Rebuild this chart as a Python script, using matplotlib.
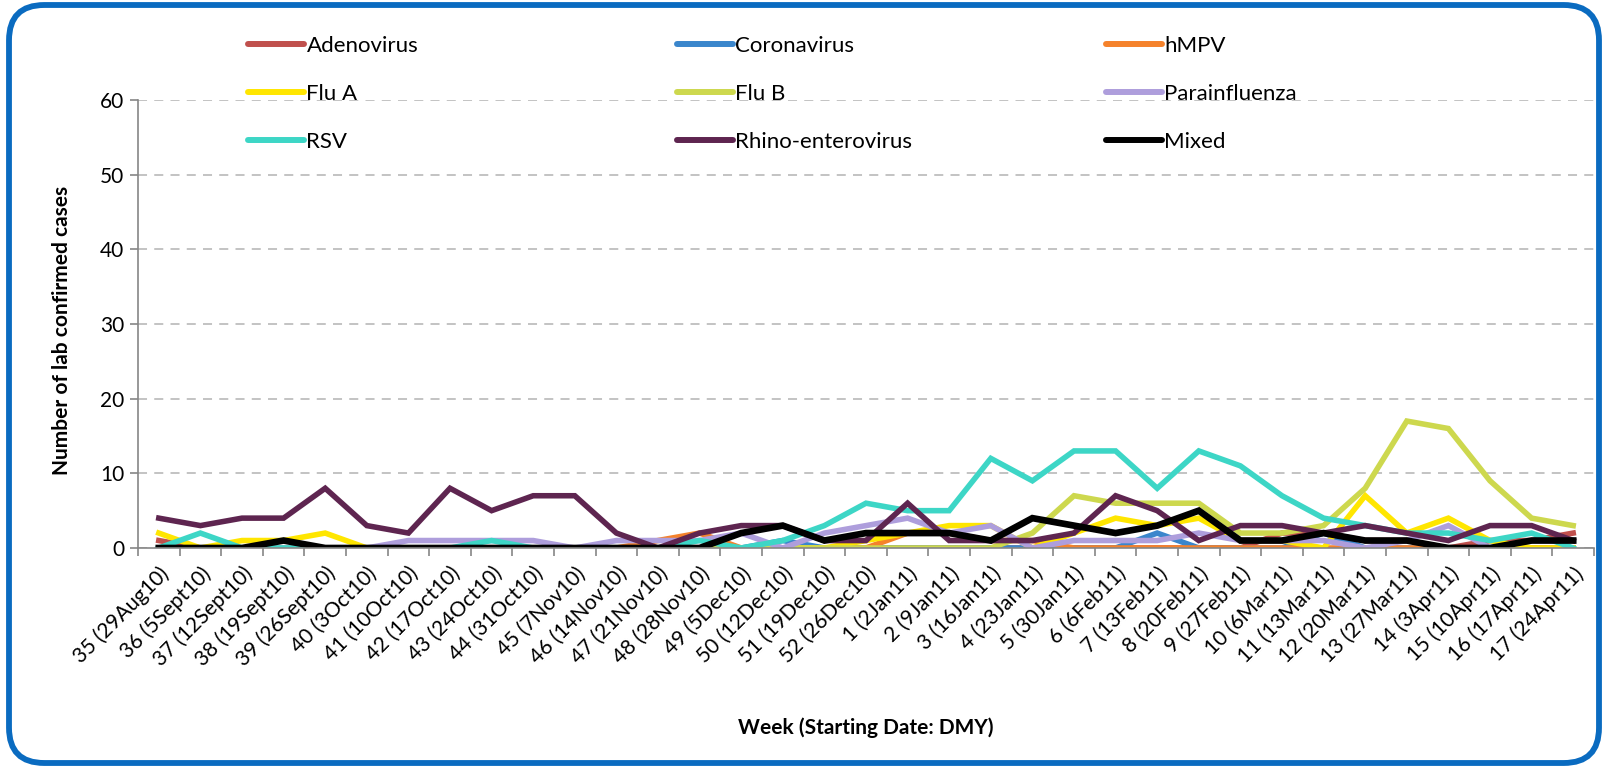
import numpy as np
import matplotlib
matplotlib.use("Agg")
import matplotlib.pyplot as plt
from matplotlib.patches import FancyBboxPatch
from matplotlib.lines import Line2D

plt.rcParams['font.family'] = ['Lato', 'DejaVu Sans']

# week labels (week number + starting date)
weeks = ["35 (29Aug10)", "36 (5Sept10)", "37 (12Sept10)", "38 (19Sept10)", "39 (26Sept10)",
         "40 (3Oct10)", "41 (10Oct10)", "42 (17Oct10)", "43 (24Oct10)", "44 (31Oct10)",
         "45 (7Nov10)", "46 (14Nov10)", "47 (21Nov10)", "48 (28Nov10)", "49 (5Dec10)",
         "50 (12Dec10)", "51 (19Dec10)", "52 (26Dec10)", "1 (2Jan11)", "2 (9Jan11)",
         "3 (16Jan11)", "4 (23Jan11)", "5 (30Jan11)", "6 (6Feb11)", "7 (13Feb11)",
         "8 (20Feb11)", "9 (27Feb11)", "10 (6Mar11)", "11 (13Mar11)", "12 (20Mar11)",
         "13 (27Mar11)", "14 (3Apr11)", "15 (10Apr11)", "16 (17Apr11)", "17 (24Apr11)"]

# lab confirmed cases per week
adenovirus = [1, 0, 0, 0, 0, 0, 0, 0, 0, 0, 0, 0, 0, 0, 0, 0, 0, 0, 0, 0, 0, 0, 0, 0, 0, 0, 0, 2, 2, 1, 1, 0, 1, 1, 2]
coronavirus = [0, 0, 0, 0, 0, 0, 0, 0, 0, 0, 0, 0, 0, 0, 0, 1, 0, 0, 0, 0, 0, 0, 0, 0, 2, 0, 0, 0, 2, 0, 0, 0, 0, 0, 0]
hmpv = [0, 0, 0, 0, 0, 0, 0, 0, 0, 0, 0, 0, 1, 2, 0, 0, 0, 0, 2, 2, 1, 1, 0, 0, 0, 0, 0, 0, 0, 0, 0, 0, 0, 0, 0]
flu_a = [2, 0, 1, 1, 2, 0, 0, 0, 0, 0, 0, 0, 0, 0, 0, 0, 0, 1, 2, 3, 3, 0, 2, 4, 3, 4, 1, 1, 0, 7, 2, 4, 1, 0, 0]
flu_b = [0, 0, 0, 0, 0, 0, 0, 0, 0, 0, 0, 0, 0, 0, 0, 0, 0, 0, 0, 0, 0, 2, 7, 6, 6, 6, 2, 2, 3, 8, 17, 16, 9, 4, 3]
parainfluenza = [0, 0, 0, 0, 0, 0, 1, 1, 1, 1, 0, 1, 1, 1, 2, 0, 2, 3, 4, 2, 3, 0, 1, 1, 1, 2, 1, 1, 1, 0, 1, 3, 0, 1, 1]
rsv = [0, 2, 0, 0, 0, 0, 0, 0, 1, 0, 0, 0, 0, 1, 0, 1, 3, 6, 5, 5, 12, 9, 13, 13, 8, 13, 11, 7, 4, 3, 2, 2, 1, 2, 0]
rhino = [4, 3, 4, 4, 8, 3, 2, 8, 5, 7, 7, 2, 0, 2, 3, 3, 1, 1, 6, 1, 1, 1, 2, 7, 5, 1, 3, 3, 2, 3, 2, 1, 3, 3, 1]
mixed = [0, 0, 0, 1, 0, 0, 0, 0, 0, 0, 0, 0, 0, 0, 2, 3, 1, 2, 2, 2, 1, 4, 3, 2, 3, 5, 1, 1, 2, 1, 1, 0, 0, 1, 1]

series = [
    ("Adenovirus", adenovirus, "#C0504D"),
    ("Coronavirus", coronavirus, "#3A86CC"),
    ("hMPV", hmpv, "#F5822B"),
    ("Flu A", flu_a, "#FFE600"),
    ("Flu B", flu_b, "#CDD84E"),
    ("Parainfluenza", parainfluenza, "#AE9EDC"),
    ("RSV", rsv, "#3DD6C6"),
    ("Rhino-enterovirus", rhino, "#5E2550"),
    ("Mixed", mixed, "#000000"),
]

W, H = 1604, 769
fig = plt.figure(figsize=(W / 100, H / 100), dpi=100)
# axes box in pixels: left 138, right 1594, y=0 at 548, y=60 at 100
ax = fig.add_axes([138 / W, 1 - 548 / H, (1594 - 138) / W, (548 - 100) / H])

x = np.arange(len(weeks))
handles = {}
for name, vals, col in series:
    lw = 4.8 if name == "Mixed" else 4.0
    ax.plot(x, vals, color=col, lw=lw, solid_joinstyle='miter')
    handles[name] = Line2D([], [], color=col, lw=4.3, solid_capstyle='round')

ax.set_xlim(-0.5, len(weeks) - 0.5)
ax.set_ylim(0, 60)
ax.set_yticks(range(0, 61, 10))
ax.yaxis.grid(True, ls=(0, (5, 4)), color="#BEBEBE", lw=1.3)
ax.set_axisbelow(True)

ax.set_xticks(x)
ax.set_xticklabels(weeks, rotation=45, ha='right', rotation_mode='anchor', fontsize=15)
ax.set_xticks(np.arange(-0.5, len(weeks)), minor=True)
ax.tick_params(axis='x', which='major', length=0, pad=11)
ax.tick_params(axis='x', which='minor', length=6, color="#868686", width=1.2)
ax.tick_params(axis='y', length=6, color="#868686", width=1.2, labelsize=15, pad=4)

for side in ['top', 'right']:
    ax.spines[side].set_visible(False)
for side in ['left', 'bottom']:
    ax.spines[side].set_color("#868686")
    ax.spines[side].set_linewidth(1.2)

fig.text(62 / W, 1 - 330 / H, "Number of lab confirmed cases", rotation=90,
         ha='center', va='center', fontsize=15, fontweight='bold')
fig.text(866 / W, 1 - 728 / H, "Week (Starting Date: DMY)",
         ha='center', va='center', fontsize=15, fontweight='bold')

# legend: three columns laid out row by row
columns = [["Adenovirus", "Flu A", "RSV"],
           ["Coronavirus", "Flu B", "Rhino-enterovirus"],
           ["hMPV", "Parainfluenza", "Mixed"]]
col_x = [248, 677, 1106]
for cx, names in zip(col_x, columns):
    fig.legend([handles[n] for n in names], names, loc='upper left',
               bbox_to_anchor=(cx / W, 1 - 36 / H), frameon=False, fontsize=16,
               handlelength=2.5, handletextpad=0.13, labelspacing=1.25,
               borderpad=0, borderaxespad=0)

# rounded blue frame around the chart
frame = FancyBboxPatch((9 / W, 6 / H), 1590 / W, 758 / H,
                       boxstyle="round,pad=0,rounding_size=0.022",
                       transform=fig.transFigure, fill=False,
                       edgecolor="#0A6BC0", lw=4.2, mutation_aspect=W / H)
fig.patches.append(frame)

fig.savefig("out.png", dpi=100)
